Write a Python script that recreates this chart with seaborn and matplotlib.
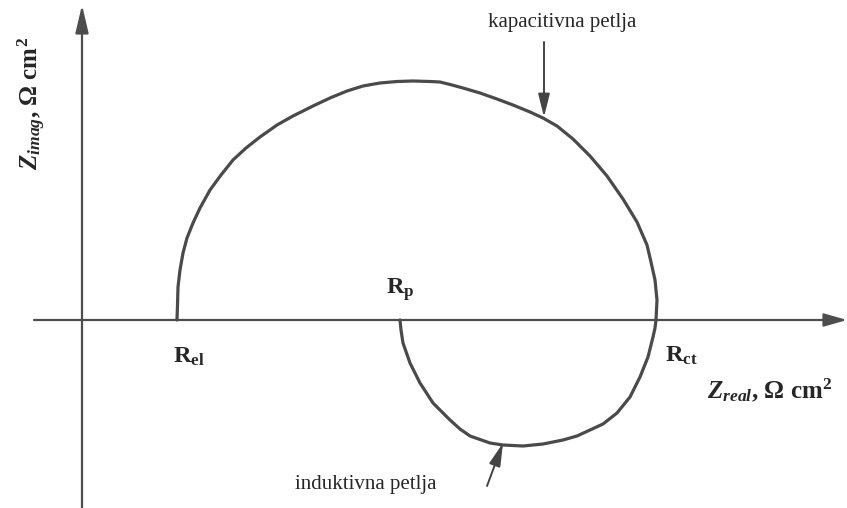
import pandas as pd
import matplotlib.pyplot as plt
import seaborn as sns

# Nyquist loop (arbitrary units, origin at the axes crossing)
# capacitive loop: from R_el over the top down to R_ct
cap_real = [9.5, 9.55, 9.6, 9.8, 10.1, 10.5, 11.1, 11.8, 12.8, 13.9, 15.1,
            16.4, 17.8, 19.5, 21.1, 23.1, 24.8, 26.5, 28.1, 29.8, 31.5, 33.1,
            34.8, 35.8, 37.0, 38.1, 39.8, 41.5, 43.1, 44.8, 46.1, 47.5, 49.1,
            50.8, 52.5, 54.1, 55.5, 56.5, 56.9, 57.3, 57.5, 57.45, 57.4]
cap_imag = [0.0, 1.5, 3.3, 5.0, 6.7, 8.2, 9.7, 11.2, 13.0, 14.5, 16.0,
            17.2, 18.3, 19.5, 20.4, 21.4, 22.2, 22.9, 23.4, 23.7, 23.85, 23.9,
            23.85, 23.8, 23.5, 23.2, 22.7, 22.1, 21.5, 20.8, 20.2, 19.4, 18.1,
            16.4, 14.4, 12.1, 9.8, 7.5, 5.8, 4.0, 2.0, 1.0, 0.0]
# inductive loop: from R_ct below the axis back to R_p
ind_real = [57.3, 57.1, 56.6, 55.8, 54.8, 53.5, 52.1, 50.8, 49.5, 48.1, 46.1,
            44.1, 42.1, 40.8, 38.8, 37.8, 36.8, 35.1, 33.8, 32.8, 32.1, 31.9,
            31.8]
ind_imag = [-0.8, -1.7, -3.7, -5.7, -7.7, -9.3, -10.4, -11.0, -11.6, -12.0,
            -12.4, -12.6, -12.5, -12.3, -11.6, -10.9, -10.0, -8.3, -6.3, -4.3,
            -2.3, -1.0, 0.0]

r_el, r_p, r_ct = 9.5, 31.8, 57.5

data = pd.DataFrame({
    "Zreal": cap_real + ind_real,
    "Zimag": cap_imag + ind_imag,
})

sns.set_style("white")
plt.rcParams["font.family"] = ["Liberation Serif", "DejaVu Serif"]
plt.rcParams["mathtext.fontset"] = "custom"
plt.rcParams["mathtext.rm"] = "Liberation Serif"
plt.rcParams["mathtext.it"] = "Liberation Serif:italic"
plt.rcParams["mathtext.bf"] = "Liberation Serif:bold"
plt.rcParams["mathtext.bfit"] = "Liberation Serif:italic:bold"

fig = plt.figure(figsize=(8.47, 5.08), dpi=100)
ax = fig.add_axes([0, 0, 1, 1])

sns.lineplot(data=data, x="Zreal", y="Zimag", sort=False, estimator=None,
             color="#4a4a4a", linewidth=2.3, ax=ax,
             solid_joinstyle="round", solid_capstyle="round")

ax.set_xlim(-8.2, 76.5)
ax.set_ylim(-18.8, 32.0)
ax.axis("off")

axis_col = "#4d4d4d"
# axes drawn as arrows through the origin
ax.annotate("", xy=(76.5, 0), xytext=(-4.8, 0),
            arrowprops=dict(arrowstyle="-|>,head_length=1.4,head_width=0.4",
                            color=axis_col, lw=1.6, shrinkA=0, shrinkB=0))
ax.annotate("", xy=(0, 31.5), xytext=(0, -18.8),
            arrowprops=dict(arrowstyle="-|>,head_length=1.7,head_width=0.4",
                            color=axis_col, lw=1.6, shrinkA=0, shrinkB=0))

# loop labels with pointers
ax.text(48.0, 29.7, "kapacitivna petlja", fontsize=15, ha="center", va="center")
ax.annotate("", xy=(46.2, 20.3), xytext=(46.2, 27.8),
            arrowprops=dict(arrowstyle="-|>,head_length=1.4,head_width=0.35",
                            color="#444444", lw=1.4, shrinkA=0, shrinkB=0))
ax.text(28.4, -16.4, "induktivna petlja", fontsize=15, ha="center", va="center")
ax.annotate("", xy=(42.1, -12.3), xytext=(40.5, -16.6),
            arrowprops=dict(arrowstyle="-|>,head_length=1.4,head_width=0.35",
                            color="#444444", lw=1.4, shrinkA=0, shrinkB=0))

# resistances
ax.text(r_p, 2.6, r"$\mathbf{R}_{\mathbf{p}}$", fontsize=17.5, ha="center",
        va="baseline")
ax.text(r_el - 0.4, -4.3, r"$\mathbf{R}_{\mathbf{el}}$", fontsize=17.5,
        ha="left", va="baseline")
ax.text(r_ct + 0.8, -4.2, r"$\mathbf{R}_{\mathbf{ct}}$", fontsize=17.5,
        ha="left", va="baseline")

# axis titles
ax.text(62.5, -7.8, r"$\mathbfit{Z}_{\mathbfit{real}}$, Ω cm$^{\mathbf{2}}$",
        fontsize=18, fontweight="bold", ha="left", va="baseline")
ax.text(-5.0, 21.7, r"$\mathbfit{Z}_{\mathbfit{imag}}$, Ω cm$^{\mathbf{2}}$",
        fontsize=18, fontweight="bold", ha="center", va="center", rotation=90)

fig.savefig("out.png", dpi=100)
